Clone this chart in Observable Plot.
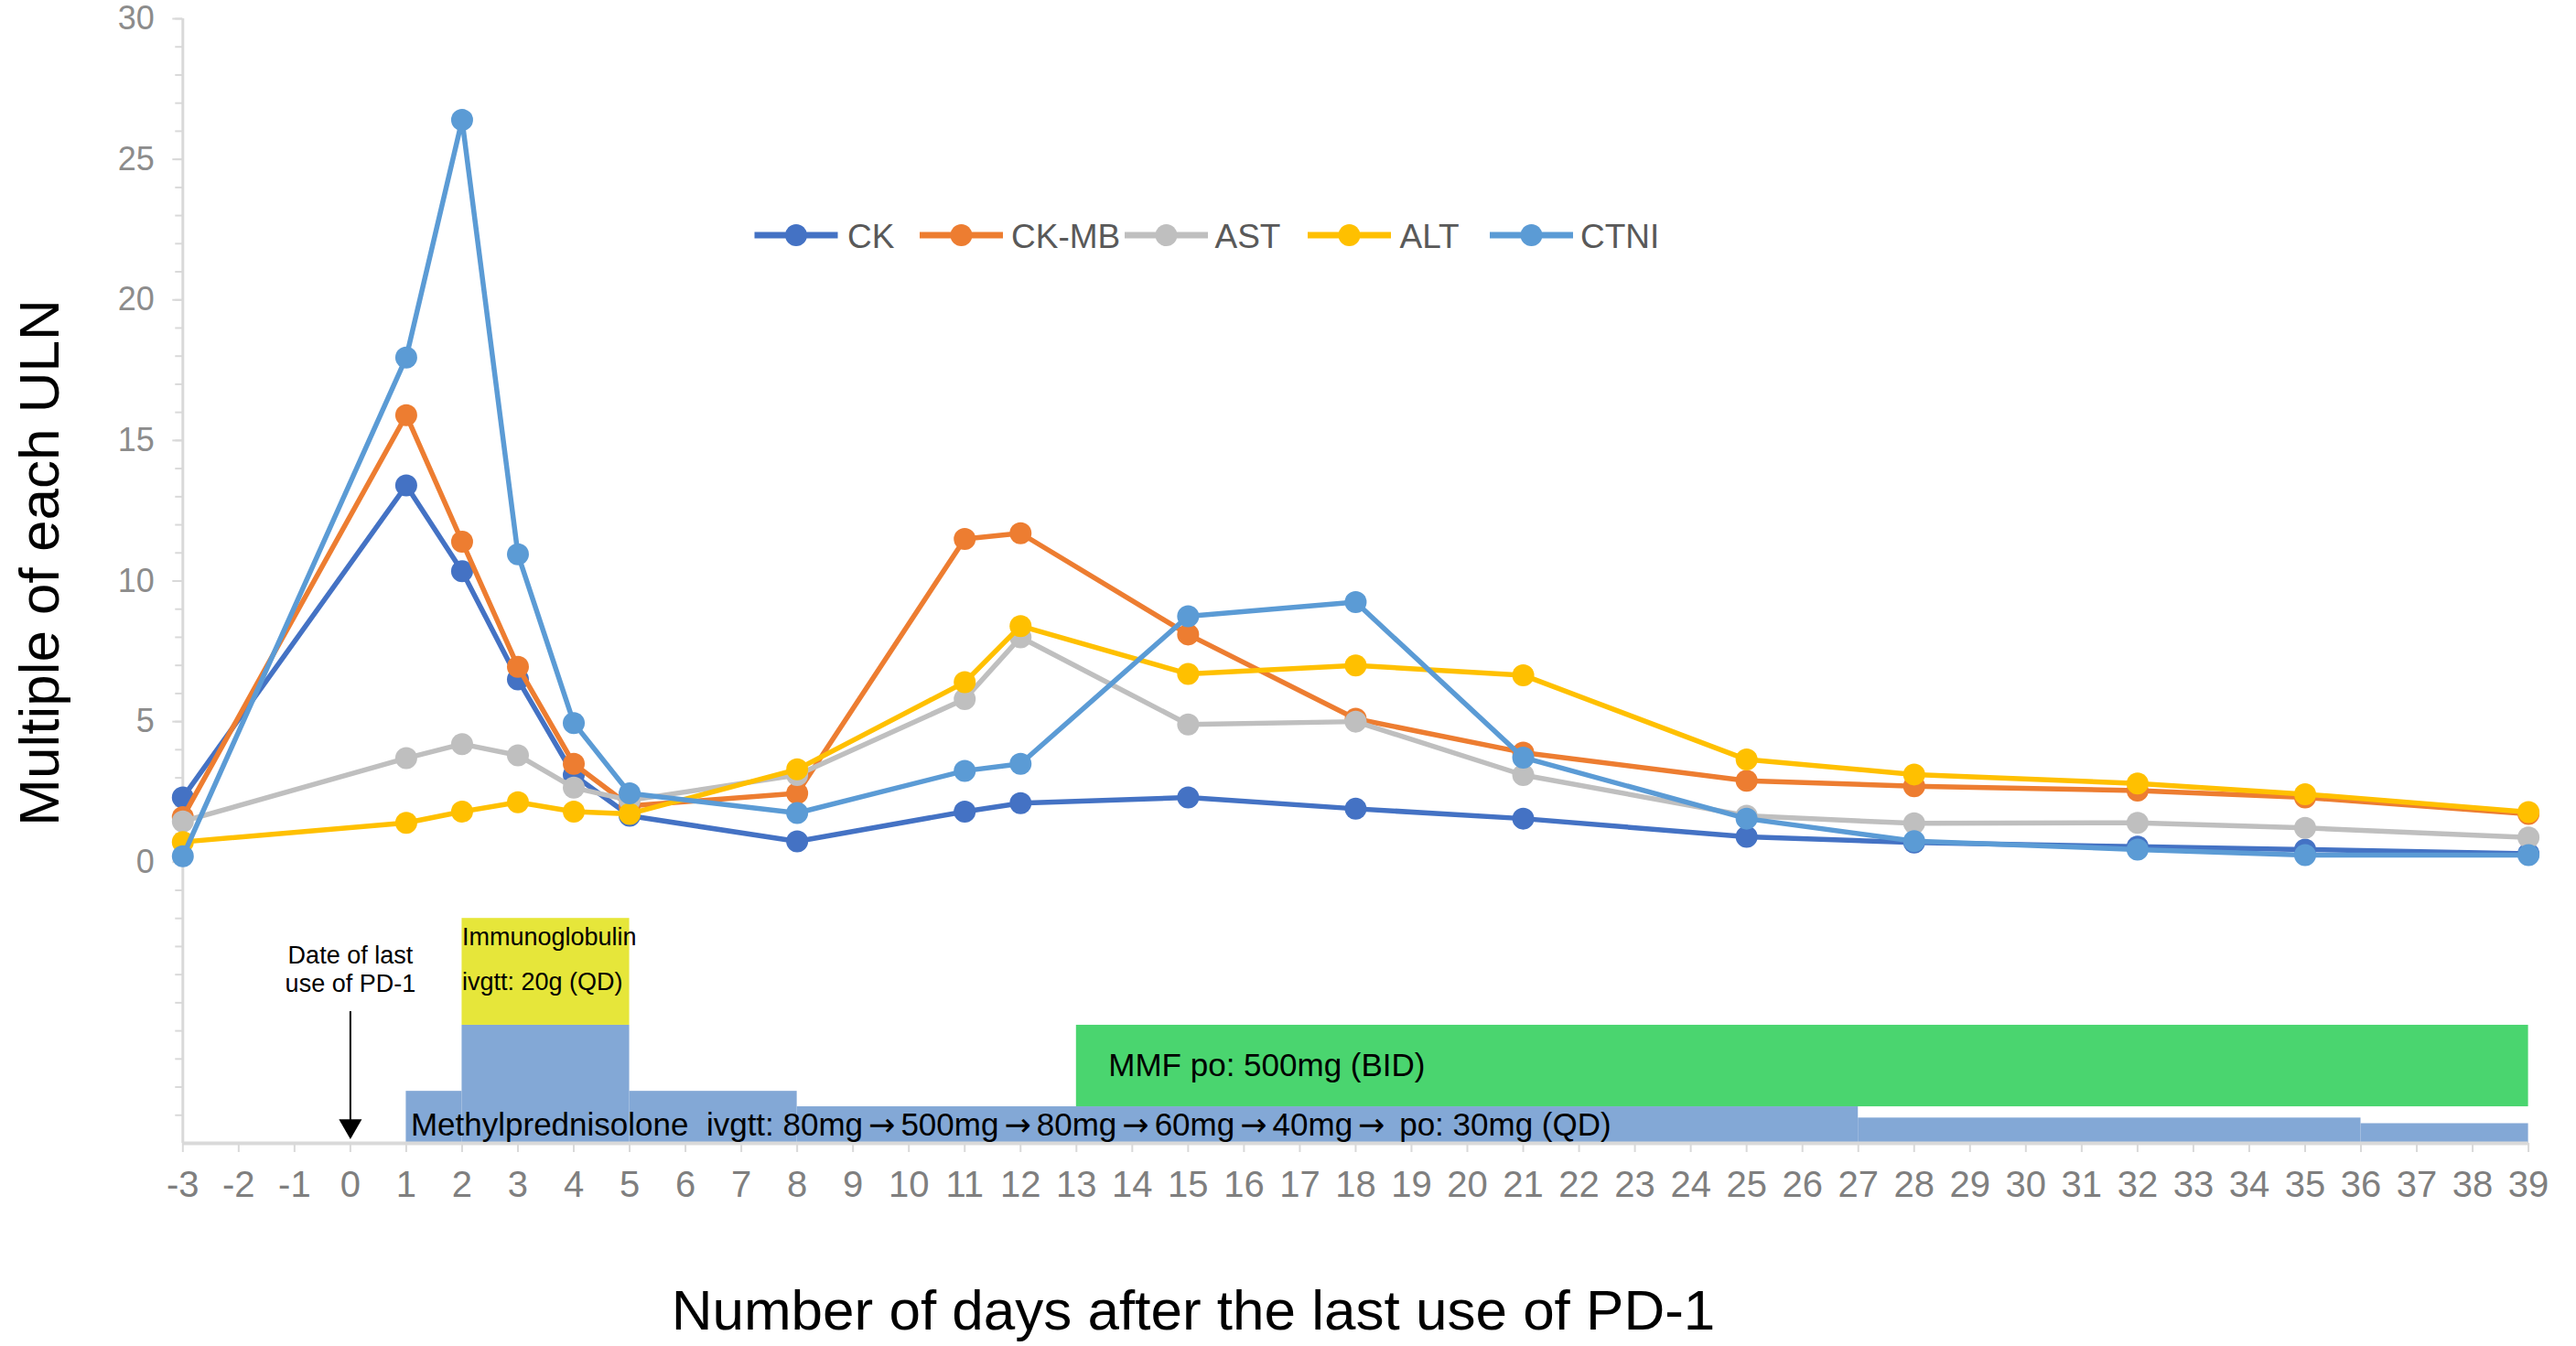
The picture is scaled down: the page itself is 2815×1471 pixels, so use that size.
<!DOCTYPE html>
<html>
<head>
<meta charset="utf-8">
<script src="https://cdn.jsdelivr.net/npm/d3@7"></script>
<script src="https://cdn.jsdelivr.net/npm/@observablehq/plot@0.6"></script>
<style>
  html, body { margin: 0; padding: 0; background: #fff; }
  #wrap { position: relative; width: 2815px; height: 1471px; font-family: "Liberation Sans", Arial, sans-serif; }
  #wrap > svg.overlay { position: absolute; left: 0; top: 0; pointer-events: none; }
</style>
</head>
<body>
<div id="wrap"></div>
<script>
// ---------- data ----------
const days = [-3, 1, 2, 3, 4, 5, 8, 11, 12, 15, 18, 21, 25, 28, 32, 35, 39];
const seriesNames = ["CK", "CK-MB", "AST", "ALT", "CTNI"];
const seriesColors = ["#4472C4", "#ED7D31", "#BFBFBF", "#FFC000", "#5B9BD5"];
const ckValues   = [2.3, 13.4, 10.35, 6.5, 3.1, 1.65, 0.74, 1.8, 2.1, 2.3, 1.9, 1.55, 0.9, 0.7, 0.55, 0.45, 0.3];
const ckmbValues = [1.6, 15.9, 11.4, 6.95, 3.5, 2.0, 2.45, 11.5, 11.7, 8.1, 5.1, 3.9, 2.9, 2.7, 2.55, 2.3, 1.72];
const astValues  = [1.45, 3.7, 4.2, 3.8, 2.65, 2.2, 3.1, 5.8, 8.0, 4.9, 5.0, 3.1, 1.65, 1.38, 1.4, 1.22, 0.88];
const altValues  = [0.72, 1.4, 1.8, 2.13, 1.8, 1.72, 3.3, 6.4, 8.4, 6.7, 7.0, 6.65, 3.65, 3.12, 2.8, 2.42, 1.78];
const ctniValues = [0.21, 17.95, 26.4, 10.95, 4.95, 2.45, 1.75, 3.25, 3.5, 8.75, 9.25, 3.72, 1.55, 0.75, 0.45, 0.25, 0.25];
const seriesValues = [ckValues, ckmbValues, astValues, altValues, ctniValues];

const xTicks = d3.range(-3, 40);          // -3 ... 39
const yLabelTicks = [0, 5, 10, 15, 20, 25, 30];
const yMinorTicks = d3.range(-9, 31);

// treatment timeline (drawn below zero, in y units of the chart)
const mpStart = [1, 2, 5, 8, 27, 36];
const mpEnd   = [2, 5, 8, 27, 36, 39];
const mpTop   = [-8.15, -5.8, -8.15, -8.7, -9.1, -9.3];
const igSpan  = [2, 5];   const igLevels  = [-5.8, -2];
const mmfSpan = [13, 39]; const mmfLevels = [-8.7, -5.8];
const baseLevel = -10;

const mpLabel  = "Methylprednisolone  ivgtt: 80mg\u2192500mg\u219280mg\u219260mg\u219240mg\u2192 po: 30mg (QD)";
const igLabel1 = "Immunoglobulin";
const igLabel2 = "ivgtt: 20g (QD)";
const mmfLabel = "MMF po: 500mg (BID)";
const pdLabel  = "Date of last\nuse of PD-1";
const yTitle = "Multiple of each ULN";
const xTitle = "Number of days after the last use of PD-1";

// ---------- tables ----------
const mpRows = mpStart.map((s, i) => ({start: s, end: mpEnd[i], top: mpTop[i]}));
const igRow = [{start: igSpan[0], end: igSpan[1], lo: igLevels[0], hi: igLevels[1]}];
const mmfRow = [{start: mmfSpan[0], end: mmfSpan[1], lo: mmfLevels[0], hi: mmfLevels[1]}];

const FONT = '"Liberation Sans", Arial, sans-serif';

const marks = [
  Plot.rect(mpRows, {x1: "start", x2: "end", y1: baseLevel, y2: "top", fill: "#83A8D6"}),
  Plot.rect(igRow, {x1: "start", x2: "end", y1: "lo", y2: "hi", fill: "#E6E63A"}),
  Plot.rect(mmfRow, {x1: "start", x2: "end", y1: "lo", y2: "hi", fill: "#4AD56F"}),
  // axes
  Plot.ruleX([days[0]], {y1: baseLevel, y2: 30, stroke: "#d9d9d9", strokeWidth: 3}),
  Plot.ruleY([baseLevel], {x1: -3, x2: 39, stroke: "#d9d9d9", strokeWidth: 4}),
  Plot.axisX({ticks: xTicks, anchor: "bottom", tickSize: 10, tickFormat: () => "", color: "#d9d9d9", strokeWidth: 2, label: null}),
  Plot.axisX({ticks: xTicks, anchor: "bottom", tickSize: 0, tickPadding: 30, fontSize: 40, color: "#7f7f7f", tickFormat: d => String(d), label: null}),
  Plot.axisY({ticks: yMinorTicks, anchor: "left", tickSize: 8, tickFormat: () => "", color: "#d9d9d9", strokeWidth: 2, label: null}),
  Plot.axisY({ticks: yLabelTicks, anchor: "left", tickSize: 11, tickFormat: () => "", color: "#d9d9d9", strokeWidth: 2, label: null}),
  Plot.axisY({ticks: yLabelTicks, anchor: "left", tickSize: 0, tickPadding: 31, fontSize: 36, color: "#8c8c8c", tickFormat: d => String(d), label: null}),
  // annotations
  Plot.text([pdLabel], {x: 0, y: -3.8, text: d => d, fontSize: 27, lineHeight: 1.15, fill: "black", textAnchor: "middle"}),
  Plot.link([0], {x1: 0, x2: 0, y1: -5.3, y2: -9.5, stroke: "black", strokeWidth: 2}),
  Plot.dot([0], {x: 0, y: -9.38, symbol: "triangle", r: 9.3, fill: "black", rotate: 180}),
  Plot.text([igLabel1], {x: igSpan[0], y: -2.67, text: d => d, fontSize: 27, fill: "black", textAnchor: "start"}),
  Plot.text([igLabel2], {x: igSpan[0], y: -4.27, text: d => d, fontSize: 27, fill: "black", textAnchor: "start"}),
  Plot.text([mmfLabel], {x: mmfSpan[0], y: -7.24, text: d => d, fontSize: 35, fill: "black", textAnchor: "start", dx: 35}),
  Plot.text([mpLabel], {x: mpStart[0], y: -9.36, text: d => d, fontSize: 35, fill: "black", textAnchor: "start", dx: 5})
];

seriesNames.forEach((name, si) => {
  const rows = days.map((d, i) => ({day: d, value: seriesValues[si][i]}));
  marks.push(Plot.line(rows, {x: "day", y: "value", stroke: seriesColors[si], strokeWidth: 5.5, strokeLinejoin: "round", strokeLinecap: "round"}));
  marks.push(Plot.dot(rows, {x: "day", y: "value", r: 12, fill: seriesColors[si], stroke: "none"}));
});

const chart = Plot.plot({
  width: 2815,
  height: 1471,
  marginLeft: 199.3,
  marginRight: 52.4,
  marginTop: 20,
  marginBottom: 222,
  x: {domain: [-3, 39]},
  y: {domain: [-10, 30]},
  style: {fontFamily: FONT, background: "white", color: "black"},
  marks
});

const wrap = document.getElementById("wrap");
wrap.appendChild(chart);

// give the arrows in the methylprednisolone label a full-width glyph with some room
d3.select(chart).selectAll("text").each(function () {
  const t = this.textContent;
  if (t !== mpLabel) return;
  const sel = d3.select(this);
  sel.text(null);
  let afterArrow = false;
  t.split(/(\u2192)/).forEach(part => {
    if (!part) return;
    const ts = sel.append("tspan").text(part);
    if (part === "\u2192") {
      ts.attr("font-family", '"DejaVu Sans", sans-serif').attr("dx", 6);
      afterArrow = true;
    } else if (afterArrow) {
      ts.attr("dx", 6);
      afterArrow = false;
    }
  });
});

// ---------- overlay: legend and axis titles ----------
const ns = "http://www.w3.org/2000/svg";
const ov = document.createElementNS(ns, "svg");
ov.setAttribute("class", "overlay");
ov.setAttribute("width", 2815);
ov.setAttribute("height", 1471);
ov.style.fontFamily = FONT;
wrap.appendChild(ov);
function el(tag, attrs, text) {
  const e = document.createElementNS(ns, tag);
  for (const k in attrs) e.setAttribute(k, attrs[k]);
  if (text != null) e.textContent = text;
  ov.appendChild(e);
  return e;
}
const legendLineX = [824.5, 1005, 1229, 1429, 1628];
const legendTextX = [926, 1105, 1327.5, 1529.6, 1727];
const legendLen = 91;
const legendY = 257;
seriesNames.forEach((name, i) => {
  const x1 = legendLineX[i], x2 = x1 + legendLen;
  el("line", {x1, x2, y1: legendY, y2: legendY, stroke: seriesColors[i], "stroke-width": 7});
  el("circle", {cx: (x1 + x2) / 2, cy: legendY, r: 12, fill: seriesColors[i]});
  el("text", {x: legendTextX[i], y: legendY + 13.5, "font-size": 37, fill: "#595959"}, name);
});
el("text", {transform: "translate(64,615) rotate(-90)", "text-anchor": "middle", "font-size": 62, fill: "black"}, yTitle);
el("text", {x: 1304, y: 1453, "text-anchor": "middle", "font-size": 62, fill: "black"}, xTitle);
</script>
</body>
</html>
